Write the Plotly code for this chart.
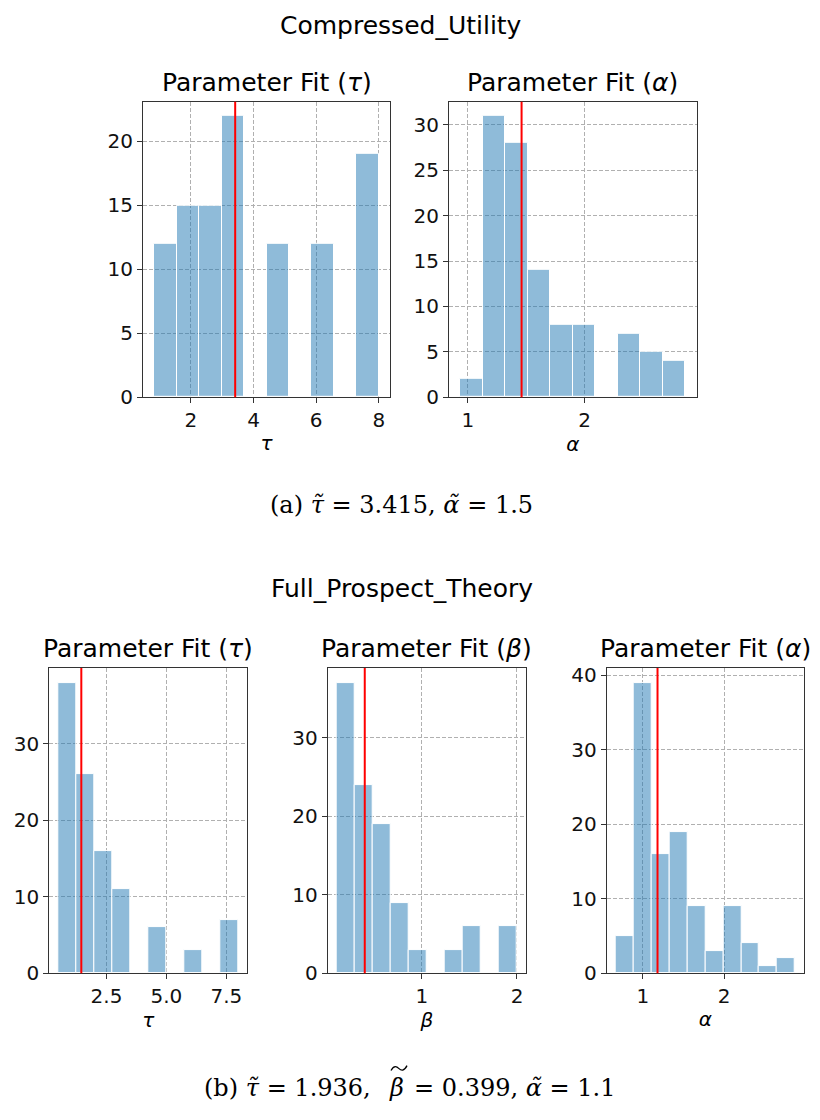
import numpy as np
import plotly.graph_objects as go

# ---------------- data ----------------
# Compressed_Utility
cu_tau_range = [0.83, 8.0]
cu_tau_counts = [12, 15, 15, 22, 0, 12, 0, 12, 0, 19]
cu_tau_median = 3.415
cu_alpha_range = [0.935, 2.863]
cu_alpha_counts = [2, 31, 28, 14, 8, 8, 0, 7, 5, 4]
cu_alpha_median = 1.46

# Full_Prospect_Theory
fp_tau_range = [0.49, 8.0]
fp_tau_counts = [38, 26, 16, 11, 0, 6, 0, 3, 0, 7]
fp_tau_median = 1.45
fp_beta_range = [0.104, 2.0]
fp_beta_counts = [37, 24, 19, 9, 3, 0, 3, 6, 0, 6]
fp_beta_median = 0.399
fp_alpha_range = [0.665, 2.872]
fp_alpha_counts = [5, 39, 16, 19, 9, 3, 9, 4, 1, 2]
fp_alpha_median = 1.18

panels = [
    # (range, counts, median, title, xlabel, xticks, xticklabels, yticks)
    (cu_tau_range, cu_tau_counts, cu_tau_median, "Parameter Fit (<i>τ</i>)", "<i>τ</i>",
     [2, 4, 6, 8], ["2", "4", "6", "8"], [0, 5, 10, 15, 20]),
    (cu_alpha_range, cu_alpha_counts, cu_alpha_median, "Parameter Fit (<i>α</i>)", "<i>α</i>",
     [1, 2], ["1", "2"], [0, 5, 10, 15, 20, 25, 30]),
    (fp_tau_range, fp_tau_counts, fp_tau_median, "Parameter Fit (<i>τ</i>)", "<i>τ</i>",
     [2.5, 5.0, 7.5], ["2.5", "5.0", "7.5"], [0, 10, 20, 30]),
    (fp_beta_range, fp_beta_counts, fp_beta_median, "Parameter Fit (<i>β</i>)", "<i>β</i>",
     [1, 2], ["1", "2"], [0, 10, 20, 30]),
    (fp_alpha_range, fp_alpha_counts, fp_alpha_median, "Parameter Fit (<i>α</i>)", "<i>α</i>",
     [1, 2], ["1", "2"], [0, 10, 20, 30, 40]),
]

W, H = 820, 1120
# pixel boxes: (x0, x1, ytop, ybottom)
boxes = [
    (143, 390, 98.3, 398.3),
    (449, 696.7, 98.3, 398.3),
    (49.3, 247.3, 673.3, 983.3),
    (327.7, 526, 673.3, 983.3),
    (606.7, 804, 673.3, 983.3),
]

BAR = "rgba(31,119,180,0.5)"
FONT = "DejaVu Sans"
SERIF = "DejaVu Serif"
fig = go.Figure()
layout = dict(width=W, height=H, margin=dict(l=0, r=0, t=0, b=0),
              paper_bgcolor="white", plot_bgcolor="white", showlegend=False,
              font=dict(family=FONT, color="#000"), bargap=0)
annotations = []
shapes = []

for i, (rng, counts, med, title, xlabel, xt, xtl, yt) in enumerate(panels):
    n = i + 1
    xa = "x" if n == 1 else f"x{n}"
    ya = "y" if n == 1 else f"y{n}"
    edges = np.linspace(rng[0], rng[1], len(counts) + 1)
    centers = (edges[:-1] + edges[1:]) / 2
    width = edges[1] - edges[0]
    fig.add_trace(go.Bar(x=centers, y=counts, width=width,
                         marker=dict(color=BAR, line=dict(color="white", width=1)),
                         xaxis=xa, yaxis=ya, hoverinfo="skip"))
    span = rng[1] - rng[0]
    xr = [rng[0] - 0.05 * span, rng[1] + 0.05 * span]
    yr = [0, max(counts) * 1.05]
    x0, x1, yt0, yb0 = boxes[i]
    xd = [x0 / W, x1 / W]
    yd = [1 - yb0 / H, 1 - yt0 / H]
    axcommon = dict(showline=True, linecolor="#333", linewidth=1, mirror=True,
                    ticks="outside", ticklen=5, tickcolor="#333",
                    showgrid=True, gridcolor="#b0b0b0", griddash="4px,2px", gridwidth=1,
                    zeroline=False, tickfont=dict(size=20, family=FONT, color="#111"))
    layout["xaxis" if n == 1 else f"xaxis{n}"] = dict(
        domain=xd, range=xr, anchor=ya, tickvals=xt, ticktext=xtl,
        title=dict(text=xlabel, font=dict(size=20, family=FONT), standoff=4), **axcommon)
    layout["yaxis" if n == 1 else f"yaxis{n}"] = dict(
        domain=yd, range=yr, anchor=xa, tickvals=yt, **axcommon)
    shapes.append(dict(type="line", xref=xa, yref=f"{ya} domain", x0=med, x1=med, y0=0, y1=1,
                       line=dict(color="red", width=2), layer="above"))
    annotations.append(dict(text=title, x=(x0 + x1) / 2 / W, y=1 - (yt0 - 3) / H,
                            xref="paper", yref="paper", xanchor="center", yanchor="bottom",
                            showarrow=False, font=dict(size=25, family=FONT, color="#000")))


def ann(text, x, y, size, family, xanchor="center"):
    annotations.append(dict(text=text, x=x / W, y=1 - y / H, xref="paper", yref="paper",
                            xanchor=xanchor, yanchor="middle", showarrow=False,
                            font=dict(size=size, family=family, color="#000")))


def px(x, y):
    return f"{x / W:.5f},{1 - y / H:.5f}"


ann("Compressed_Utility", 401, 21, 25, FONT)
ann("Full_Prospect_Theory", 401.5, 593, 25, FONT)
ann("(a) <i>τ̃</i> = 3.415, <i>α̃</i> = 1.5", 401, 508, 24, SERIF)
# caption (b) composed in pieces; tilde over the tall beta drawn as a small curve
ann("(b) <i>τ̃</i> = 1.936,", 373, 1100, 24, SERIF, "right")
ann("<i>β</i>", 396, 1100, 24, SERIF)
ann("= 0.399, <i>α̃</i> = 1.1", 412, 1100, 24, SERIF, "left")
shapes.append(dict(type="path", xref="paper", yref="paper",
                   path=f"M {px(391, 1082)} C {px(394, 1076)} {px(397, 1078)} {px(399, 1080)} "
                        f"C {px(401, 1082)} {px(404, 1083)} {px(407, 1077)}",
                   line=dict(color="black", width=1.3)))

layout["annotations"] = annotations
layout["shapes"] = shapes
fig.update_layout(**layout)
fig.write_html("out.html")
